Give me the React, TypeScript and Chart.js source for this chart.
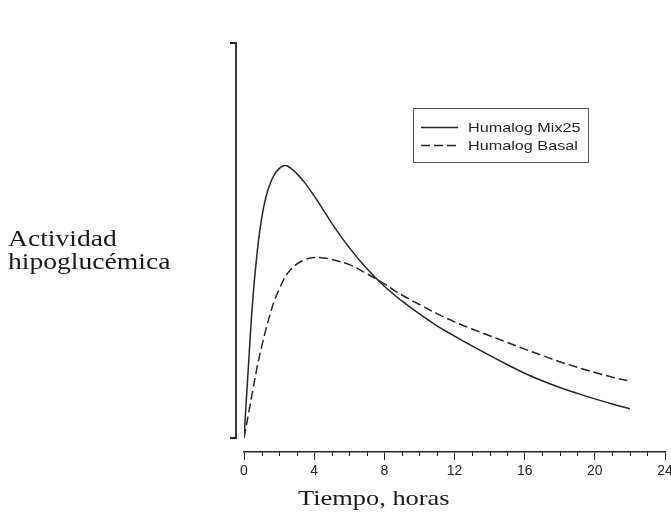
import { useEffect, useRef } from 'react';
import { Chart, registerables } from 'chart.js';

Chart.register(...registerables);

// ---- data ----
const hours = [0, 0.25, 0.5, 0.75, 1, 1.25, 1.5, 1.75, 2, 2.25, 2.5, 3, 3.5, 4, 4.5, 5, 6, 7, 8, 9, 10, 11, 12, 13, 14, 15, 16, 17, 18, 19, 20, 21, 22];
const mix25 = [0, 18, 35, 47, 55.5, 61, 64.5, 66.8, 68.2, 68.9, 68.8, 67, 64.4, 61.3, 57.9, 54.4, 48.2, 42.9, 38.4, 34.7, 31.4, 28.4, 25.8, 23.3, 20.9, 18.6, 16.4, 14.5, 12.8, 11.3, 9.9, 8.6, 7.4];
const basal = [0, 6, 12, 18, 23, 27.5, 31.5, 35, 37.6, 40, 41.8, 44, 45.2, 45.7, 45.6, 45.2, 43.9, 41.6, 39, 36.2, 33.8, 31.5, 29.4, 27.6, 25.9, 24.2, 22.5, 20.9, 19.3, 17.9, 16.6, 15.4, 14.4];
const seriesLabels = ['Humalog Mix25', 'Humalog Basal'];
const xTicks = [0, 4, 8, 12, 16, 20, 24];
const yTitleLines = ['Actividad', 'hipoglucémica'];
const xTitle = 'Tiempo, horas';

const INK = '#262626';

function drawStretched(ctx: CanvasRenderingContext2D, text: string, x: number, y: number, font: string, sx: number) {
  ctx.save();
  ctx.translate(x, y);
  ctx.scale(sx, 1);
  ctx.font = font;
  ctx.fillText(text, 0, 0);
  ctx.restore();
}

const decor = {
  id: 'decor',
  afterDraw(chart: any) {
    const { ctx, scales } = chart;
    const x = scales.x;
    const y = scales.y;
    ctx.save();
    ctx.strokeStyle = INK;
    ctx.fillStyle = INK;

    // detached y axis
    const ax = x.getPixelForValue(0) - 8;
    const yt = y.getPixelForValue(100);
    const yb = y.getPixelForValue(0);
    ctx.lineWidth = 1.8;
    ctx.beginPath();
    ctx.moveTo(ax - 6, yt);
    ctx.lineTo(ax, yt);
    ctx.lineTo(ax, yb);
    ctx.lineTo(ax - 6, yb);
    ctx.stroke();

    // minor ticks on x axis
    const by = chart.chartArea.bottom;
    ctx.lineWidth = 1;
    for (let h = x.min; h <= x.max; h += 1) {
      if (h % 4 === 0) continue;
      const px = Math.round(x.getPixelForValue(h)) + 0.5;
      ctx.beginPath();
      ctx.moveTo(px, by);
      ctx.lineTo(px, by + 4);
      ctx.stroke();
    }

    // legend box
    const lx = 413, ly = 108, lw = 175, lh = 54;
    ctx.strokeStyle = '#555';
    ctx.lineWidth = 1;
    ctx.strokeRect(lx + 0.5, ly + 0.5, lw, lh);
    const rows = [127, 145];
    chart.data.datasets.forEach((ds: any, i: number) => {
      const ry = rows[i];
      ctx.strokeStyle = INK;
      ctx.lineWidth = 1.3;
      ctx.setLineDash(ds.borderDash || []);
      ctx.beginPath();
      ctx.moveTo(421, ry + 0.5);
      ctx.lineTo(458, ry + 0.5);
      ctx.stroke();
      ctx.setLineDash([]);
      ctx.fillStyle = INK;
      ctx.textBaseline = 'middle';
      ctx.textAlign = 'left';
      drawStretched(ctx, ds.label, 468, ry + 1, '13.5px "Liberation Sans", Arial, sans-serif', 1.2);
    });

    // axis titles
    ctx.fillStyle = '#1a1a1a';
    ctx.textBaseline = 'alphabetic';
    ctx.textAlign = 'left';
    const serif = '23px "Liberation Serif", "Times New Roman", serif';
    drawStretched(ctx, yTitleLines[0], 8, 246, serif, 1.2);
    drawStretched(ctx, yTitleLines[1], 8, 269, serif, 1.2);
    drawStretched(ctx, xTitle, 298, 505, '22px "Liberation Serif", "Times New Roman", serif', 1.2);
    ctx.restore();
  },
};

export default function App() {
  const ref = useRef<HTMLCanvasElement | null>(null);
  useEffect(() => {
    if (!ref.current) return;
    const chart = new Chart(ref.current, {
      type: 'line',
      data: {
        datasets: [
          {
            label: seriesLabels[0],
            data: hours.map((h, i) => ({ x: h, y: mix25[i] })),
            borderColor: INK,
            borderWidth: 1.5,
            pointRadius: 0,
            tension: 0.4,
            fill: false,
          },
          {
            label: seriesLabels[1],
            data: hours.map((h, i) => ({ x: h, y: basal[i] })),
            borderColor: INK,
            borderWidth: 1.5,
            borderDash: [9, 4],
            pointRadius: 0,
            tension: 0.4,
            fill: false,
          },
        ],
      },
      options: {
        animation: false,
        responsive: false,
        layout: { padding: { left: 244, right: 6, top: 43, bottom: 0 } },
        plugins: { legend: { display: false }, tooltip: { enabled: false }, title: { display: false } },
        scales: {
          x: {
            type: 'linear',
            min: 0,
            max: 24,
            afterFit: (s: any) => {
              s.height = 65;
              s.paddingLeft = 0;
              s.paddingRight = 0;
            },
            afterBuildTicks: (s: any) => {
              s.ticks = xTicks.map((v) => ({ value: v }));
            },
            ticks: {
              color: INK,
              font: { family: '"Liberation Sans", Arial, sans-serif', size: 14 },
              padding: 3,
              maxRotation: 0,
              autoSkip: false,
            },
            grid: { drawOnChartArea: false, drawTicks: true, tickLength: 8, color: INK, lineWidth: 1 },
            border: { display: true, color: INK, width: 1.5 },
          },
          y: { display: false, min: -3.544, max: 100 },
        },
      },
      plugins: [decor],
    } as any);
    return () => chart.destroy();
  }, []);
  return (
    <div style={{ position: 'fixed', left: 0, top: 0, width: 671, height: 517, background: '#fff' }}>
      <canvas ref={ref} width={671} height={517} style={{ display: 'block' }} />
    </div>
  );
}
